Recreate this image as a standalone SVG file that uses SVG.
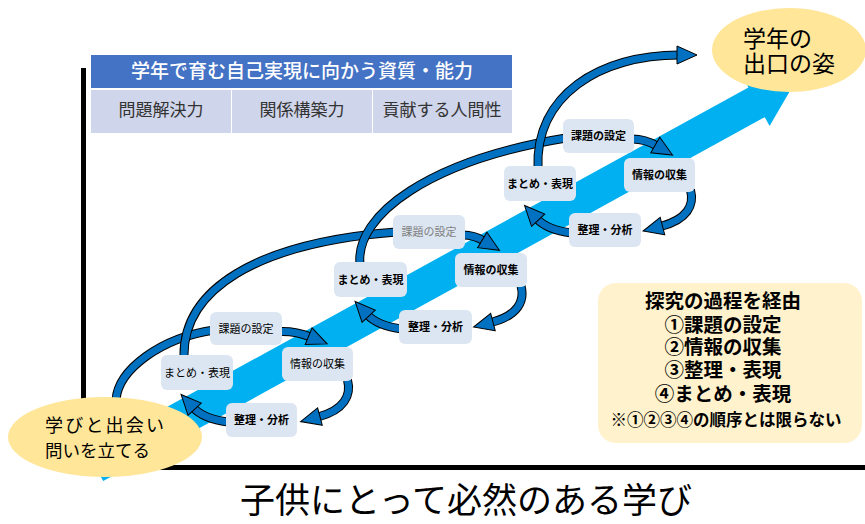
<svg xmlns="http://www.w3.org/2000/svg" xmlns:xlink="http://www.w3.org/1999/xlink" width="865" height="524" viewBox="0 0 865 524">
<style>
text{font-family:"Noto Sans CJK JP","Noto Sans CJK SC",sans-serif;}
.bx{fill:#DCE6F2;}
.bt{font-size:11px;text-anchor:middle;fill:#000;}
.b{font-weight:bold;}
.o{fill:none;stroke:#000;stroke-width:9;}
.f{fill:none;stroke:#0070C0;stroke-width:7;}
.h{marker-end:url(#ah);}
.yl{fill:#FFE699;}
.lg{font-size:19.5px;font-weight:bold;text-anchor:middle;fill:#000;}
.cell{fill:#CFD5EA;}
.ct{font-size:17px;text-anchor:middle;fill:#333;}
</style>
<defs>
<marker id="ah" markerUnits="userSpaceOnUse" orient="auto" refX="0" refY="0" markerWidth="30" markerHeight="30" overflow="visible">
<path d="M-2,-9 L18,0 L-2,9 Z" fill="#0070C0" stroke="#000" stroke-width="1"/>
</marker>
<path id="c1" d="M116,400 C118,370 160,338 214,330"/>
<path id="c2" d="M280,331.5 Q296,331 310.5,337"/>
<path id="c3" d="M347.5,380 C351.5,395 344.5,410 318,417"/>
<path id="c4" d="M228,422 C212,420 201,416 193.3,407.7"/>
<path id="c5" d="M184,358 C182,290 255,243 396,232"/>
<path id="c6" d="M463,235 Q474,235 484,241"/>
<path id="c7" d="M521,286 C525,301 518,315.5 491,322.5"/>
<path id="c8" d="M402,329 C386,327 375,323 367.3,314.7"/>
<path id="c9" d="M360,264 C355,215 430,160 566,138"/>
<path id="c10" d="M632.5,139 Q645,139 657,146"/>
<path id="c11" d="M690.5,190 C694.5,205 687.5,219.5 660.5,226.5"/>
<path id="c12" d="M571.5,233 C555.5,231 544.5,227 536.8,218.7"/>
<path id="c13" d="M538,168 C535,95 600,55 679,55"/>
</defs>
<rect width="865" height="524" fill="#fff"/>

<g id="frame">
<rect x="81" y="68" width="5" height="402" fill="#000"/>
<rect x="81" y="465" width="784" height="5" fill="#000"/>
</g>

<g id="table">
<rect x="91" y="55" width="421" height="33" fill="#4472C4"/>
<text x="302" y="78" font-size="19" font-weight="500" fill="#fff" text-anchor="middle">学年で育む自己実現に向かう資質・能力</text>
<rect class="cell" x="91" y="90" width="140" height="43"/>
<rect class="cell" x="232" y="90" width="140" height="43"/>
<rect class="cell" x="373" y="90" width="139" height="43"/>
<text class="ct" x="161" y="116">問題解決力</text>
<text class="ct" x="302" y="116">関係構築力</text>
<text class="ct" x="442" y="116">貢献する人間性</text>
</g>

<g id="growth-arrow">
<polygon transform="translate(95,466) rotate(-28.8)" points="0,-17 755,-17 755,-27 800,0 755,27 755,17 0,17" fill="#00B0F0"/>
</g>

<g id="connectors">
<use xlink:href="#c1" class="o"/><use xlink:href="#c1" class="f"/>
<use xlink:href="#c2" class="o"/><use xlink:href="#c2" class="f h"/>
<use xlink:href="#c3" class="o"/><use xlink:href="#c3" class="f h"/>
<use xlink:href="#c4" class="o"/><use xlink:href="#c4" class="f h"/>
<use xlink:href="#c5" class="o"/><use xlink:href="#c5" class="f"/>
<use xlink:href="#c6" class="o"/><use xlink:href="#c6" class="f h"/>
<use xlink:href="#c7" class="o"/><use xlink:href="#c7" class="f h"/>
<use xlink:href="#c8" class="o"/><use xlink:href="#c8" class="f h"/>
<use xlink:href="#c9" class="o"/><use xlink:href="#c9" class="f"/>
<use xlink:href="#c10" class="o"/><use xlink:href="#c10" class="f h"/>
<use xlink:href="#c11" class="o"/><use xlink:href="#c11" class="f h"/>
<use xlink:href="#c12" class="o"/><use xlink:href="#c12" class="f h"/>
<use xlink:href="#c13" class="o"/><use xlink:href="#c13" class="f h"/>
</g>

<g id="k1"><rect class="bx" x="210" y="312" width="72" height="33" rx="6"/><text class="bt" x="246" y="332.5">課題の設定</text></g>
<g id="j1"><rect class="bx" x="282" y="347" width="71" height="34" rx="6"/><text class="bt" x="317.5" y="368">情報の収集</text></g>
<g id="m1"><rect class="bx" x="161" y="355" width="72" height="35" rx="6"/><text class="bt" x="197" y="376.5">まとめ・表現</text></g>
<g id="s1"><rect class="bx" x="226" y="403" width="71" height="34" rx="6"/><text class="bt b" x="261.5" y="424">整理・分析</text></g>

<g id="k2"><rect class="bx" x="393" y="215" width="72" height="34" rx="6"/><text class="bt" x="429" y="236" style="fill:#7F7F7F">課題の設定</text></g>
<g id="j2"><rect class="bx" x="455" y="253" width="72" height="34" rx="6"/><text class="bt b" x="491" y="274">情報の収集</text></g>
<g id="m2"><rect class="bx" x="334" y="262" width="73" height="35" rx="6"/><text class="bt b" x="370.5" y="283.5">まとめ・表現</text></g>
<g id="s2"><rect class="bx" x="399" y="310" width="73" height="34" rx="6"/><text class="bt b" x="435.5" y="331">整理・分析</text></g>

<g id="k3"><rect class="bx" x="563" y="119" width="71" height="34" rx="6"/><text class="bt b" x="598.5" y="140">課題の設定</text></g>
<g id="j3"><rect class="bx" x="624" y="158" width="71" height="34" rx="6"/><text class="bt b" x="659.5" y="179">情報の収集</text></g>
<g id="m3"><rect class="bx" x="504" y="166" width="72" height="35" rx="6"/><text class="bt b" x="540" y="187.5">まとめ・表現</text></g>
<g id="s3"><rect class="bx" x="569" y="213" width="72" height="34" rx="6"/><text class="bt b" x="605" y="234">整理・分析</text></g>

<g id="start">
<ellipse class="yl" cx="105" cy="437" rx="97" ry="40"/>
<text x="45" y="432" font-size="18" letter-spacing="2.2" fill="#000">学びと出会い</text>
<text x="45" y="457" font-size="17.5" fill="#000">問いを立てる</text>
</g>

<g id="goal">
<ellipse class="yl" cx="789" cy="50" rx="77" ry="42"/>
<text x="743" y="47" font-size="23" fill="#000">学年の</text>
<text x="743" y="72" font-size="23" fill="#000">出口の姿</text>
</g>

<g id="legend">
<rect x="598" y="283" width="264" height="160" rx="18" fill="#FFF2CC"/>
<text class="lg" x="723" y="308">探究の過程を経由</text>
<text class="lg" x="723" y="332">①課題の設定</text>
<text class="lg" x="723" y="354">②情報の収集</text>
<text class="lg" x="723" y="377">③整理・表現</text>
<text class="lg" x="723" y="401">④まとめ・表現</text>
<text x="726" y="426" font-size="16.5" font-weight="bold" text-anchor="middle" fill="#000">※①②③④の順序とは限らない</text>
</g>

<g id="title">
<text x="466" y="513" font-size="35" text-anchor="middle" fill="#000">子供にとって必然のある学び</text>
</g>
</svg>
